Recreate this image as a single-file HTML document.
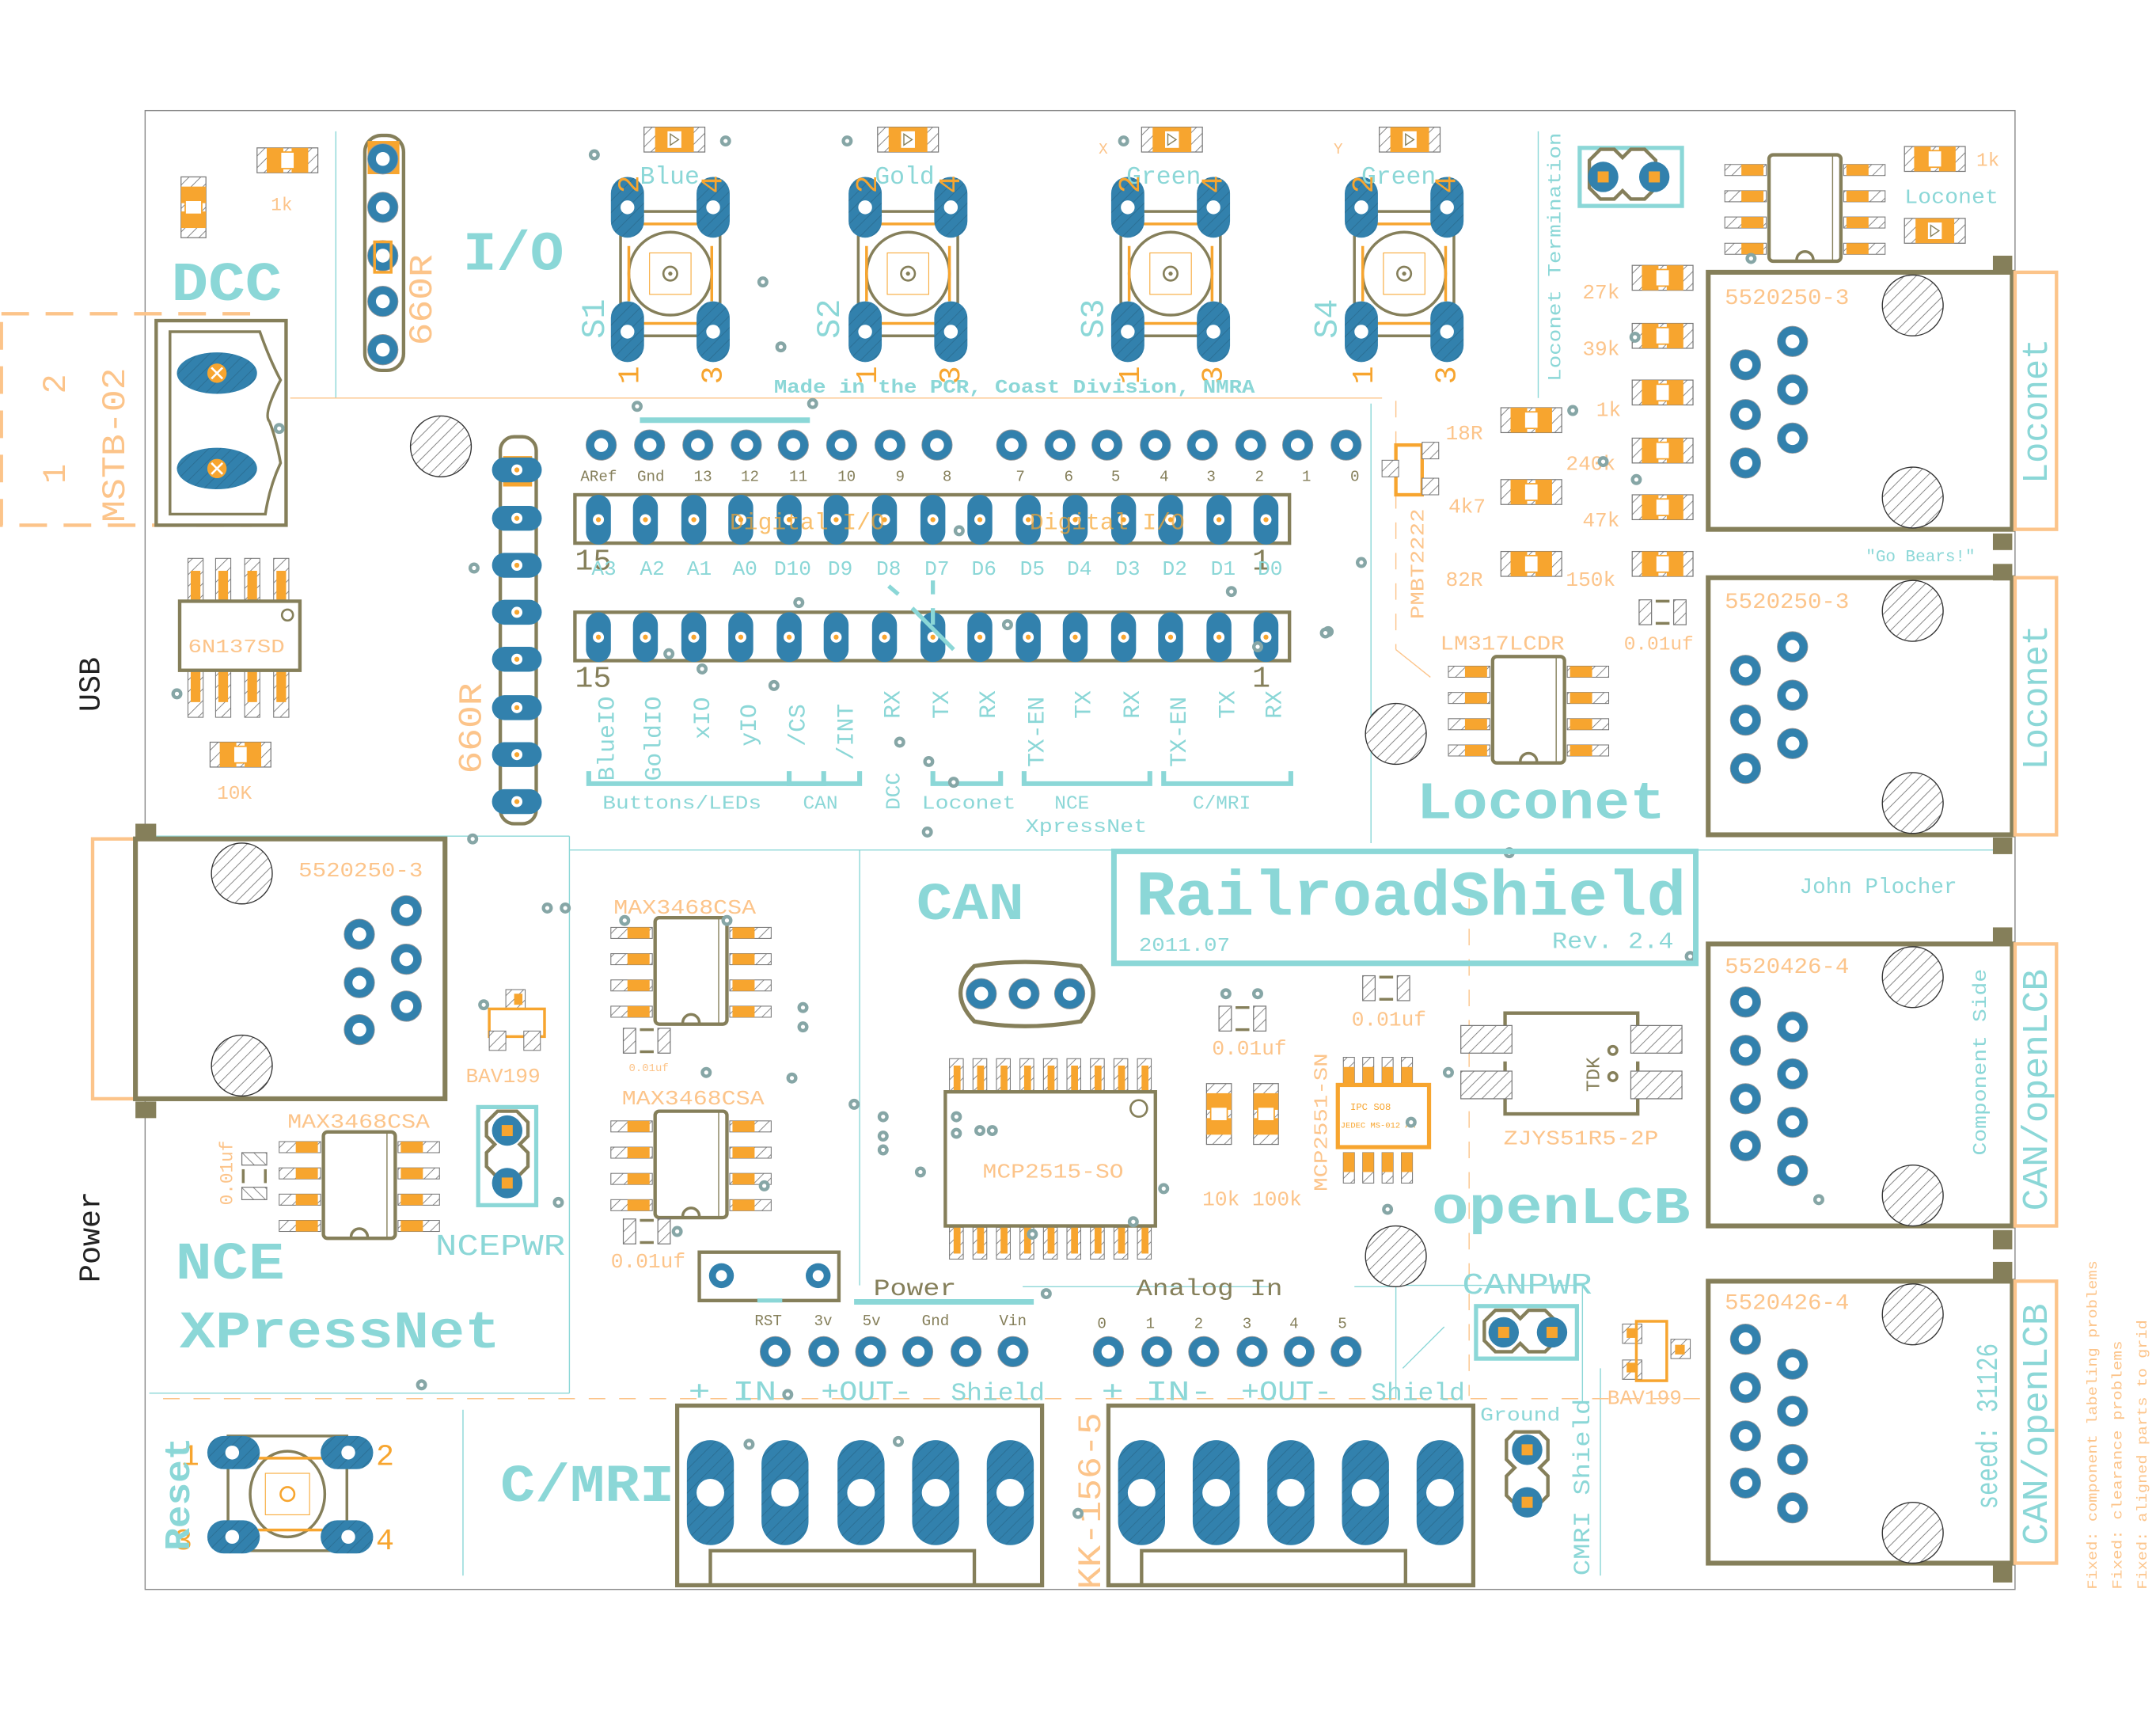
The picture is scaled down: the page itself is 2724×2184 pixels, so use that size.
<!DOCTYPE html>
<html><head><meta charset="utf-8"><style>
html,body{margin:0;padding:0;background:#fff;width:2724px;height:2184px;overflow:hidden}
svg{display:block;position:absolute;left:0;top:0}
text{font-family:"Liberation Mono","DejaVu Sans Mono",monospace}
.t{fill:#8bd7d7}
.o{fill:#fcc48a}
.ol{fill:#857f5a}
.k{fill:#222}
</style></head><body>
<svg width="2724" height="2184" viewBox="0 0 1560 1251" preserveAspectRatio="none" xmlns="http://www.w3.org/2000/svg">
<defs>
<pattern id="h" width="6" height="6" patternUnits="userSpaceOnUse" patternTransform="rotate(45)"><rect width="6" height="6" fill="#fff"/><line x1="0" y1="0" x2="0" y2="6" stroke="#777" stroke-width="1"/></pattern>
<pattern id="hb" width="6" height="6" patternUnits="userSpaceOnUse" patternTransform="rotate(45)"><rect width="6" height="6" fill="#3281ad"/><line x1="0" y1="0" x2="0" y2="6" stroke="#2a6d92" stroke-width="1"/></pattern>
<g id="p"><circle r="11" fill="#3281ad" stroke="#999" stroke-width="0.5"/><circle r="5" fill="#fff"/></g>
<g id="v"><circle r="4" fill="#86a6a6"/><circle r="1.5" fill="#fff"/></g>
<g id="op"><rect x="-9" y="-18" width="18" height="36" rx="9" fill="#3281ad"/><circle r="4" fill="#fff"/><circle r="1.8" fill="#f7a52f"/></g>
<g id="sp"><rect x="-12" y="-22" width="24" height="44" rx="12" fill="url(#hb)"/><circle r="5" fill="#fff"/></g>
<g id="big"><rect x="-17" y="-38" width="34" height="76" rx="17" fill="url(#hb)"/><circle r="10" fill="#fff"/></g>
<g id="rh"><rect x="-22" y="-9" width="44" height="18" fill="url(#h)" stroke="#777" stroke-width="0.7"/><rect x="-15" y="-9" width="12" height="18" fill="#f7a52f"/><rect x="3" y="-9" width="12" height="18" fill="#f7a52f"/><rect x="-5" y="-6" width="10" height="12" fill="#fff" stroke="#f7a52f"/></g>
<g id="rv"><rect x="-9" y="-22" width="18" height="44" fill="url(#h)" stroke="#777" stroke-width="0.7"/><rect x="-9" y="-15" width="18" height="12" fill="#f7a52f"/><rect x="-9" y="3" width="18" height="12" fill="#f7a52f"/><rect x="-6" y="-5" width="12" height="10" fill="#fff" stroke="#f7a52f"/></g>
<g id="cap"><rect x="-17" y="-9" width="9" height="18" fill="url(#h)" stroke="#777" stroke-width="0.7"/><rect x="8" y="-9" width="9" height="18" fill="url(#h)" stroke="#777" stroke-width="0.7"/><line x1="-5" y1="-8" x2="5" y2="-8" stroke="#857f5a" stroke-width="2"/><line x1="-5" y1="8" x2="5" y2="8" stroke="#857f5a" stroke-width="2"/></g>
<g id="so8"><g fill="url(#h)" stroke="#777" stroke-width="0.6"><rect x="-58" y="-31" width="30" height="8"/><rect x="-58" y="-12" width="30" height="8"/><rect x="-58" y="7" width="30" height="8"/><rect x="-58" y="26" width="30" height="8"/><rect x="28" y="-31" width="30" height="8"/><rect x="28" y="-12" width="30" height="8"/><rect x="28" y="7" width="30" height="8"/><rect x="28" y="26" width="30" height="8"/></g><g fill="#f7a52f"><rect x="-46" y="-31" width="16" height="8"/><rect x="-46" y="-12" width="16" height="8"/><rect x="-46" y="7" width="16" height="8"/><rect x="-46" y="26" width="16" height="8"/><rect x="30" y="-31" width="16" height="8"/><rect x="30" y="-12" width="16" height="8"/><rect x="30" y="7" width="16" height="8"/><rect x="30" y="26" width="16" height="8"/></g><rect x="-26" y="-38" width="52" height="77" rx="3" fill="#fff" stroke="#857f5a" stroke-width="2.5"/><line x1="20" y1="-37" x2="20" y2="38" stroke="#857f5a" stroke-width="0.8"/><path d="M-6 38 a6 6 0 0 1 12 0" fill="none" stroke="#857f5a" stroke-width="2"/></g>
<g id="sw"><rect x="-36" y="-45" width="72" height="90" fill="none" stroke="#857f5a" stroke-width="2"/><circle r="30" fill="none" stroke="#857f5a" stroke-width="2"/><rect x="-15" y="-15" width="30" height="30" fill="none" stroke="#f7a52f" stroke-width="0.6"/><circle r="5" fill="none" stroke="#857f5a" stroke-width="1.5"/><circle r="1.5" fill="#857f5a"/><line x1="-30" y1="-36" x2="30" y2="-36" stroke="#f7a52f" stroke-width="2"/><line x1="-30" y1="36" x2="30" y2="36" stroke="#f7a52f" stroke-width="2"/><line x1="-30" y1="-20" x2="-30" y2="20" stroke="#f7a52f" stroke-width="2"/><line x1="30" y1="-20" x2="30" y2="20" stroke="#f7a52f" stroke-width="2"/><use href="#sp" x="-31" y="-48"/><use href="#sp" x="31" y="-48"/><use href="#sp" x="-31" y="42"/><use href="#sp" x="31" y="42"/></g>
<g id="led"><rect x="-22" y="-9" width="44" height="18" fill="url(#h)" stroke="#777" stroke-width="0.7"/><rect x="-14" y="-9" width="28" height="18" fill="#f7a52f"/><rect x="-5" y="-6" width="10" height="12" fill="#fff"/><path d="M-3 -4 L3 0 L-3 4Z" fill="none" stroke="#857f5a" stroke-width="0.8"/></g>
<g id="rj3"><rect x="0" y="0" width="220" height="186" fill="#fff" stroke="#857f5a" stroke-width="3.5"/><circle cx="148" cy="24" r="22" fill="url(#h)" stroke="#333" stroke-width="0.8"/><circle cx="148" cy="163" r="22" fill="url(#h)" stroke="#333" stroke-width="0.8"/><use href="#p" x="27" y="67"/><use href="#p" x="27" y="103"/><use href="#p" x="27" y="138"/><use href="#p" x="61" y="50"/><use href="#p" x="61" y="85"/><use href="#p" x="61" y="120"/></g>
<g id="rj4"><rect x="0" y="0" width="220" height="204" fill="#fff" stroke="#857f5a" stroke-width="3.5"/><circle cx="148" cy="24" r="22" fill="url(#h)" stroke="#333" stroke-width="0.8"/><circle cx="148" cy="182" r="22" fill="url(#h)" stroke="#333" stroke-width="0.8"/><use href="#p" x="27" y="42"/><use href="#p" x="27" y="77"/><use href="#p" x="27" y="112"/><use href="#p" x="27" y="146"/><use href="#p" x="61" y="60"/><use href="#p" x="61" y="94"/><use href="#p" x="61" y="129"/><use href="#p" x="61" y="164"/></g>
</defs>
<rect width="1560" height="1251" fill="#fff"/>
<rect x="105" y="80" width="1353" height="1070" fill="none" stroke="#888" stroke-width="0.8"/>
<g stroke="#8bd7d7" stroke-width="0.8" fill="none">
<line x1="243" y1="95" x2="243" y2="288"/><line x1="1113" y1="95" x2="1113" y2="288"/>
<line x1="992" y1="292" x2="992" y2="610"/>
<line x1="108" y1="605" x2="412" y2="605"/><line x1="412" y1="605" x2="412" y2="1008"/><line x1="108" y1="1008" x2="412" y2="1008"/>
<line x1="412" y1="615" x2="805" y2="615"/><line x1="622" y1="615" x2="622" y2="930"/>
<line x1="1227" y1="615" x2="1455" y2="615"/>
<line x1="335" y1="1020" x2="335" y2="1140"/>
<line x1="1015" y1="930" x2="1145" y2="930"/><line x1="1145" y1="930" x2="1145" y2="1014"/><line x1="1158" y1="990" x2="1158" y2="1140"/>
<line x1="740" y1="931" x2="920" y2="931"/><line x1="980" y1="931" x2="1010" y2="931"/><line x1="1010" y1="931" x2="1010" y2="1012"/>
<line x1="1015" y1="990" x2="1045" y2="960"/>
</g>
<g stroke="#fcc48a" stroke-width="0.8" fill="none">
<line x1="210" y1="288" x2="1000" y2="288"/>
<line x1="1010" y1="290" x2="1010" y2="470" stroke-dasharray="12 10"/>
<line x1="1010" y1="470" x2="1035" y2="490"/>
<line x1="118" y1="1012" x2="1455" y2="1012" stroke-dasharray="12 10"/>
<line x1="1063" y1="650" x2="1063" y2="1010" stroke-dasharray="12 10"/>
</g>
<text class="k" font-size="22" transform="translate(72,515) rotate(-90)">USB</text>
<text class="k" font-size="22" transform="translate(72,928) rotate(-90)">Power</text>
<text class="t" x="124" y="217" font-size="40" font-weight="bold" textLength="80" lengthAdjust="spacingAndGlyphs">DCC</text>
<rect x="1" y="227" width="180" height="153" fill="none" stroke="#fcc48a" stroke-width="2.5" stroke-dasharray="20 12"/>
<text class="o" font-size="24" transform="translate(47,285) rotate(-90)">2</text>
<text class="o" font-size="24" transform="translate(47,350) rotate(-90)">1</text>
<text class="o" font-size="24" transform="translate(90,378) rotate(-90)" textLength="112" lengthAdjust="spacingAndGlyphs">MSTB-02</text>
<rect x="113" y="232" width="94" height="148" fill="#fff" stroke="#857f5a" stroke-width="2.5"/>
<path d="M123 240 H188 Q195 260 203 275 Q190 300 195 305 Q200 318 203 335 Q195 352 192 372 H123 Z" fill="none" stroke="#857f5a" stroke-width="2"/>
<ellipse cx="157" cy="270" rx="29" ry="15" fill="url(#hb)"/><circle cx="157" cy="270" r="7" fill="#f7a52f"/><path d="M153 266 l8 8 M161 266 l-8 8" stroke="#fff" stroke-width="1.5"/>
<ellipse cx="157" cy="339" rx="29" ry="15" fill="url(#hb)"/><circle cx="157" cy="339" r="7" fill="#f7a52f"/><path d="M153 335 l8 8 M161 335 l-8 8" stroke="#fff" stroke-width="1.5"/>
<use href="#v" x="202" y="310"/>
<use href="#rh" x="208" y="116"/>
<text class="o" x="196" y="152" font-size="13">1k</text>
<use href="#rv" x="140" y="150"/>
<rect x="264" y="98" width="28" height="170" rx="12" fill="#fff" stroke="#857f5a" stroke-width="2.5"/>
<rect x="266" y="102" width="23" height="24" fill="#f7a52f"/>
<use href="#p" x="277" y="115"/><use href="#p" x="277" y="150"/><use href="#p" x="277" y="185"/><use href="#p" x="277" y="218"/><use href="#p" x="277" y="253"/>
<rect x="271" y="175" width="12" height="22" fill="none" stroke="#f7a52f" stroke-width="2"/>
<text class="o" font-size="24" transform="translate(312,250) rotate(-90)" textLength="66" lengthAdjust="spacingAndGlyphs">660R</text>
<text class="t" x="335" y="195" font-size="40" font-weight="bold" textLength="73" lengthAdjust="spacingAndGlyphs">I/O</text>
<g>
<use href="#sw" x="485" y="198"/><use href="#sw" x="657" y="198"/><use href="#sw" x="847" y="198"/><use href="#sw" x="1016" y="198"/>
<use href="#led" x="488" y="101"/><use href="#led" x="657" y="101"/><use href="#led" x="848" y="101"/><use href="#led" x="1020" y="101"/>
<text class="t" x="463" y="133" font-size="18">Blue</text>
<text class="t" x="633" y="133" font-size="18">Gold</text>
<text class="t" x="815" y="133" font-size="18">Green</text>
<text class="t" x="985" y="133" font-size="18">Green</text>
<text class="o" x="795" y="111" font-size="11">X</text><text class="o" x="965" y="111" font-size="11">Y</text>
<g font-size="22" fill="#f7a52f">
<text transform="translate(462,140) rotate(-90)">2</text><text transform="translate(522,140) rotate(-90)">4</text>
<text transform="translate(462,278) rotate(-90)">1</text><text transform="translate(522,278) rotate(-90)">3</text>
<text transform="translate(634,140) rotate(-90)">2</text><text transform="translate(694,140) rotate(-90)">4</text>
<text transform="translate(634,278) rotate(-90)">1</text><text transform="translate(694,278) rotate(-90)">3</text>
<text transform="translate(824,140) rotate(-90)">2</text><text transform="translate(884,140) rotate(-90)">4</text>
<text transform="translate(824,278) rotate(-90)">1</text><text transform="translate(884,278) rotate(-90)">3</text>
<text transform="translate(993,140) rotate(-90)">2</text><text transform="translate(1053,140) rotate(-90)">4</text>
<text transform="translate(993,278) rotate(-90)">1</text><text transform="translate(1053,278) rotate(-90)">3</text>
</g>
<g font-size="24" fill="#8bd7d7">
<text transform="translate(437,245) rotate(-90)">S1</text><text transform="translate(607,245) rotate(-90)">S2</text>
<text transform="translate(798,245) rotate(-90)">S3</text><text transform="translate(967,245) rotate(-90)">S4</text>
</g>
<text class="t" x="560" y="284" font-size="14" font-weight="bold" textLength="348" lengthAdjust="spacingAndGlyphs">Made in the PCR, Coast Division, NMRA</text>
</g>
<use href="#v" x="430" y="112"/><use href="#v" x="525" y="102"/><use href="#v" x="552" y="204"/><use href="#v" x="565" y="251"/><use href="#v" x="613" y="102"/><use href="#v" x="813" y="102"/><use href="#v" x="461" y="294"/><use href="#v" x="588" y="292"/>
<text class="t" font-size="13" transform="translate(1129,276) rotate(-90)" textLength="180" lengthAdjust="spacingAndGlyphs">Loconet Termination</text>
<rect x="1143" y="107" width="74" height="42" fill="none" stroke="#8bd7d7" stroke-width="3"/>
<path d="M1150 116 l8 -8 h10 l6 6 l6 -6 h10 l8 8 v20 l-8 8 h-10 l-6 -6 l-6 6 h-10 l-8 -8z" fill="#fff" stroke="#857f5a" stroke-width="2.5"/>
<circle cx="1160" cy="128" r="11" fill="#3281ad"/><rect x="1156" y="124" width="8" height="8" fill="#f7a52f"/>
<circle cx="1197" cy="128" r="11" fill="#3281ad"/><rect x="1193" y="124" width="8" height="8" fill="#f7a52f"/>
<use href="#so8" x="1306" y="150"/>
<use href="#rh" x="1400" y="115"/><text class="o" x="1430" y="120" font-size="14">1k</text>
<text class="t" x="1378" y="147" font-size="15" textLength="68" lengthAdjust="spacingAndGlyphs">Loconet</text>
<use href="#led" x="1400" y="167"/>
<use href="#v" x="1267" y="187"/>
<use href="#rh" x="1203" y="201"/><text class="o" x="1145" y="216" font-size="15">27k</text>
<use href="#rh" x="1203" y="243"/><text class="o" x="1145" y="257" font-size="15">39k</text>
<use href="#rh" x="1203" y="284"/><text class="o" x="1155" y="301" font-size="15">1k</text>
<use href="#rh" x="1203" y="326"/><text class="o" x="1133" y="340" font-size="15">240k</text>
<use href="#rh" x="1203" y="367"/><text class="o" x="1145" y="381" font-size="15">47k</text>
<use href="#rh" x="1203" y="408"/><text class="o" x="1133" y="424" font-size="15">150k</text>
<use href="#rh" x="1108" y="304"/><text class="o" x="1046" y="318" font-size="15">18R</text>
<use href="#rh" x="1108" y="356"/><text class="o" x="1048" y="371" font-size="15">4k7</text>
<use href="#rh" x="1108" y="408"/><text class="o" x="1046" y="424" font-size="15">82R</text>
<use href="#cap" x="1203" y="443"/><text class="o" x="1175" y="470" font-size="14">0.01uf</text>
<use href="#v" x="1138" y="297"/><use href="#v" x="1183" y="244"/><use href="#v" x="1184" y="347"/><use href="#v" x="1241" y="350"/><use href="#v" x="1240" y="321"/><use href="#v" x="1160" y="334"/><use href="#v" x="985" y="407"/><use href="#v" x="961" y="457"/>
<rect x="1010" y="322" width="19" height="36" fill="#fff" stroke="#f7a52f" stroke-width="2.5"/>
<rect x="1029" y="320" width="12" height="12" fill="url(#h)" stroke="#777" stroke-width="0.6"/><rect x="1029" y="346" width="12" height="12" fill="url(#h)" stroke="#777" stroke-width="0.6"/><rect x="1000" y="333" width="12" height="12" fill="url(#h)" stroke="#777" stroke-width="0.6"/>
<text class="o" font-size="14" transform="translate(1030,448) rotate(-90)" textLength="80" lengthAdjust="spacingAndGlyphs">PMBT2222</text>
<text class="o" x="1042" y="470" font-size="15" textLength="90" lengthAdjust="spacingAndGlyphs">LM317LCDR</text>
<use href="#so8" x="1106" y="513"/>
<circle cx="1010" cy="531" r="22" fill="url(#h)" stroke="#333" stroke-width="0.8"/>
<text class="t" x="1025" y="592" font-size="38" font-weight="bold" textLength="180" lengthAdjust="spacingAndGlyphs">Loconet</text>
<use href="#v" x="1092" y="617"/>
<use href="#rj3" x="1236" y="197"/><text class="o" x="1248" y="220" font-size="16" textLength="90" lengthAdjust="spacingAndGlyphs">5520250-3</text>
<use href="#rj3" x="1236" y="418"/><text class="o" x="1248" y="440" font-size="16" textLength="90" lengthAdjust="spacingAndGlyphs">5520250-3</text>
<use href="#rj4" x="1236" y="683"/><text class="o" x="1248" y="704" font-size="16" textLength="90" lengthAdjust="spacingAndGlyphs">5520426-4</text>
<use href="#rj4" x="1236" y="927"/><text class="o" x="1248" y="947" font-size="16" textLength="90" lengthAdjust="spacingAndGlyphs">5520426-4</text>
<g fill="none" stroke="#fcc48a" stroke-width="2.5">
<rect x="1458" y="197" width="30" height="186"/><rect x="1458" y="418" width="30" height="186"/><rect x="1458" y="683" width="30" height="204"/><rect x="1458" y="927" width="30" height="204"/>
</g>
<g fill="#857f5a"><rect x="1442" y="185" width="14" height="12"/><rect x="1442" y="386" width="14" height="12"/><rect x="1442" y="408" width="14" height="12"/><rect x="1442" y="606" width="14" height="12"/><rect x="1442" y="671" width="14" height="12"/><rect x="1442" y="890" width="14" height="14"/><rect x="1442" y="913" width="14" height="14"/><rect x="1442" y="1131" width="14" height="14"/></g>
<g fill="#8bd7d7" font-size="26">
<text transform="translate(1481,350) rotate(-90)" textLength="105" lengthAdjust="spacingAndGlyphs">Loconet</text>
<text transform="translate(1481,557) rotate(-90)" textLength="105" lengthAdjust="spacingAndGlyphs">Loconet</text>
<text transform="translate(1481,876) rotate(-90)" textLength="175" lengthAdjust="spacingAndGlyphs">CAN/openLCB</text>
<text transform="translate(1481,1118) rotate(-90)" textLength="175" lengthAdjust="spacingAndGlyphs">CAN/openLCB</text>
</g>
<text class="t" font-size="14" transform="translate(1437,836) rotate(-90)" textLength="135" lengthAdjust="spacingAndGlyphs">Component Side</text>
<text class="t" font-size="22" transform="translate(1445,1092) rotate(-90)" textLength="120" lengthAdjust="spacingAndGlyphs">seeed: 31126</text>
<text class="t" x="1350" y="406" font-size="12">"Go Bears!"</text>
<text class="t" x="1302" y="646" font-size="16" textLength="114" lengthAdjust="spacingAndGlyphs">John Plocher</text>
<use href="#v" x="1316" y="868"/><use href="#v" x="1223" y="692"/>
<g fill="#fcc48a" font-size="10">
<text transform="translate(1517,1150) rotate(-90)" textLength="238" lengthAdjust="spacingAndGlyphs">Fixed: component labeling problems</text>
<text transform="translate(1535,1150) rotate(-90)" textLength="180" lengthAdjust="spacingAndGlyphs">Fixed: clearance problems</text>
<text transform="translate(1553,1150) rotate(-90)" textLength="195" lengthAdjust="spacingAndGlyphs">Fixed: aligned parts to grid</text>
</g>
<g fill="url(#h)" stroke="#777" stroke-width="0.6"><rect x="136" y="404" width="11" height="32"/><rect x="156" y="404" width="11" height="32"/><rect x="177" y="404" width="11" height="32"/><rect x="198" y="404" width="11" height="32"/><rect x="136" y="485" width="11" height="34"/><rect x="156" y="485" width="11" height="34"/><rect x="177" y="485" width="11" height="34"/><rect x="198" y="485" width="11" height="34"/></g>
<g fill="#f7a52f"><rect x="138" y="413" width="7" height="23"/><rect x="158" y="413" width="7" height="23"/><rect x="179" y="413" width="7" height="23"/><rect x="200" y="413" width="7" height="23"/><rect x="138" y="485" width="7" height="23"/><rect x="158" y="485" width="7" height="23"/><rect x="179" y="485" width="7" height="23"/><rect x="200" y="485" width="7" height="23"/></g>
<rect x="130" y="435" width="87" height="50" fill="#fff" stroke="#857f5a" stroke-width="2.5"/>
<circle cx="208" cy="445" r="4" fill="none" stroke="#857f5a" stroke-width="1.5"/>
<text class="o" x="136" y="472" font-size="14" textLength="70" lengthAdjust="spacingAndGlyphs">6N137SD</text>
<use href="#rh" x="174" y="546"/><text class="o" x="157" y="578" font-size="14">10K</text>
<use href="#v" x="128" y="502"/>
<circle cx="319" cy="323" r="22" fill="url(#h)" stroke="#333" stroke-width="0.8"/>
<rect x="362" y="316" width="26" height="280" rx="10" fill="#fff" stroke="#857f5a" stroke-width="2.5"/>
<rect x="364" y="330" width="21" height="22" fill="#f7a52f"/>
<g><use href="#op" x="374" y="340" transform="rotate(90 374 340)"/><use href="#op" x="374" y="375" transform="rotate(90 374 375)"/><use href="#op" x="374" y="409" transform="rotate(90 374 409)"/><use href="#op" x="374" y="443" transform="rotate(90 374 443)"/><use href="#op" x="374" y="477" transform="rotate(90 374 477)"/><use href="#op" x="374" y="512" transform="rotate(90 374 512)"/><use href="#op" x="374" y="546" transform="rotate(90 374 546)"/><use href="#op" x="374" y="580" transform="rotate(90 374 580)"/></g>
<text class="o" font-size="24" transform="translate(348,560) rotate(-90)" textLength="66" lengthAdjust="spacingAndGlyphs">660R</text>
<use href="#v" x="343" y="411"/><use href="#v" x="342" y="607"/>
<line x1="463" y1="304" x2="586" y2="304" stroke="#8bd7d7" stroke-width="4"/>
<g>
<use href="#p" x="435" y="322"/><use href="#p" x="470" y="322"/><use href="#p" x="505" y="322"/><use href="#p" x="540" y="322"/><use href="#p" x="574" y="322"/><use href="#p" x="609" y="322"/><use href="#p" x="644" y="322"/><use href="#p" x="678" y="322"/>
<use href="#p" x="732" y="322"/><use href="#p" x="767" y="322"/><use href="#p" x="801" y="322"/><use href="#p" x="836" y="322"/><use href="#p" x="870" y="322"/><use href="#p" x="905" y="322"/><use href="#p" x="939" y="322"/><use href="#p" x="974" y="322"/>
</g>
<g class="ol" font-size="11">
<text x="420" y="348">ARef</text><text x="461" y="348">Gnd</text><text x="502" y="348">13</text><text x="536" y="348">12</text><text x="571" y="348">11</text><text x="606" y="348">10</text><text x="648" y="348">9</text><text x="682" y="348">8</text>
<text x="735" y="348">7</text><text x="770" y="348">6</text><text x="804" y="348">5</text><text x="839" y="348">4</text><text x="873" y="348">3</text><text x="908" y="348">2</text><text x="942" y="348">1</text><text x="977" y="348">0</text>
</g>
<rect x="416" y="358" width="517" height="35" fill="#fff" stroke="#857f5a" stroke-width="2.5"/>
<rect x="416" y="443" width="517" height="35" fill="#fff" stroke="#857f5a" stroke-width="2.5"/>
<g>
<use href="#op" x="433" y="376"/><use href="#op" x="467" y="376"/><use href="#op" x="502" y="376"/><use href="#op" x="536" y="376"/><use href="#op" x="571" y="376"/><use href="#op" x="605" y="376"/><use href="#op" x="640" y="376"/><use href="#op" x="675" y="376"/><use href="#op" x="709" y="376"/><use href="#op" x="744" y="376"/><use href="#op" x="778" y="376"/><use href="#op" x="813" y="376"/><use href="#op" x="847" y="376"/><use href="#op" x="882" y="376"/><use href="#op" x="916" y="376"/>
<use href="#op" x="433" y="461"/><use href="#op" x="467" y="461"/><use href="#op" x="502" y="461"/><use href="#op" x="536" y="461"/><use href="#op" x="571" y="461"/><use href="#op" x="605" y="461"/><use href="#op" x="640" y="461"/><use href="#op" x="675" y="461"/><use href="#op" x="709" y="461"/><use href="#op" x="744" y="461"/><use href="#op" x="778" y="461"/><use href="#op" x="813" y="461"/><use href="#op" x="847" y="461"/><use href="#op" x="882" y="461"/><use href="#op" x="916" y="461"/>
</g>
<text x="528" y="383" font-size="17" fill="#f7a52f" opacity="0.7">Digital I/O</text>
<text x="745" y="383" font-size="17" fill="#f7a52f" opacity="0.7">Digital I/O</text>
<text class="ol" x="416" y="412" font-size="22">15</text><text class="ol" x="906" y="412" font-size="22">1</text>
<text class="ol" x="416" y="497" font-size="22">15</text><text class="ol" x="906" y="497" font-size="22">1</text>
<g class="t" font-size="15">
<text x="428" y="416">A3</text><text x="463" y="416">A2</text><text x="497" y="416">A1</text><text x="530" y="416">A0</text><text x="560" y="416">D10</text><text x="599" y="416">D9</text><text x="634" y="416">D8</text><text x="669" y="416">D7</text><text x="703" y="416">D6</text><text x="738" y="416">D5</text><text x="772" y="416">D4</text><text x="807" y="416">D3</text><text x="841" y="416">D2</text><text x="876" y="416">D1</text><text x="910" y="416">D0</text>
</g>
<g stroke="#8bd7d7" stroke-width="3"><line x1="643" y1="424" x2="650" y2="430"/><line x1="660" y1="440" x2="690" y2="470"/><line x1="675" y1="420" x2="675" y2="430"/><line x1="675" y1="440" x2="675" y2="452"/></g>
<g class="t" font-size="17">
<text transform="translate(444,565) rotate(-90)">BlueIO</text><text transform="translate(478,565) rotate(-90)">GoldIO</text>
<text transform="translate(513,535) rotate(-90)">xIO</text><text transform="translate(547,540) rotate(-90)">yIO</text>
<text transform="translate(582,540) rotate(-90)">/CS</text><text transform="translate(617,550) rotate(-90)">/INT</text>
<text transform="translate(651,520) rotate(-90)">RX</text><text transform="translate(686,520) rotate(-90)">TX</text><text transform="translate(720,520) rotate(-90)">RX</text>
<text transform="translate(755,555) rotate(-90)">TX-EN</text><text transform="translate(789,520) rotate(-90)">TX</text><text transform="translate(824,520) rotate(-90)">RX</text>
<text transform="translate(858,555) rotate(-90)">TX-EN</text><text transform="translate(893,520) rotate(-90)">TX</text><text transform="translate(927,520) rotate(-90)">RX</text>
<text transform="translate(651,586) rotate(-90)" font-size="15">DCC</text>
</g>
<g fill="none" stroke="#8bd7d7" stroke-width="3.5">
<path d="M426 558 v9 H596 v-9"/><path d="M571 558 v9 H622 v-9"/><path d="M675 558 v9 H724 v-9"/><path d="M741 558 v9 H832 v-9"/><path d="M842 558 v9 H934 v-9"/>
</g>
<g class="t" font-size="14">
<text x="436" y="585" textLength="115" lengthAdjust="spacingAndGlyphs">Buttons/LEDs</text><text x="581" y="585">CAN</text><text x="667" y="585" textLength="68" lengthAdjust="spacingAndGlyphs">Loconet</text><text x="763" y="585">NCE</text><text x="742" y="602" textLength="88" lengthAdjust="spacingAndGlyphs">XpressNet</text><text x="863" y="585">C/MRI</text>
</g>
<use href="#v" x="578" y="436"/><use href="#v" x="484" y="473"/><use href="#v" x="508" y="484"/><use href="#v" x="560" y="496"/><use href="#v" x="651" y="537"/><use href="#v" x="672" y="551"/><use href="#v" x="690" y="566"/><use href="#v" x="671" y="602"/><use href="#v" x="891" y="428"/><use href="#v" x="910" y="468"/><use href="#v" x="959" y="458"/><use href="#v" x="694" y="384"/><use href="#v" x="729" y="452"/>
<rect x="67" y="607" width="31" height="188" fill="none" stroke="#fcc48a" stroke-width="2.5"/>
<rect x="98" y="607" width="224" height="188" fill="#fff" stroke="#857f5a" stroke-width="3.5"/>
<circle cx="175" cy="632" r="22" fill="url(#h)" stroke="#333" stroke-width="0.8"/><circle cx="175" cy="771" r="22" fill="url(#h)" stroke="#333" stroke-width="0.8"/>
<use href="#p" x="260" y="676"/><use href="#p" x="260" y="711"/><use href="#p" x="260" y="745"/><use href="#p" x="294" y="659"/><use href="#p" x="294" y="694"/><use href="#p" x="294" y="728"/>
<text class="o" x="216" y="634" font-size="15" textLength="90" lengthAdjust="spacingAndGlyphs">5520250-3</text>
<rect x="98" y="596" width="15" height="12" fill="#857f5a"/><rect x="98" y="797" width="15" height="12" fill="#857f5a"/>
<use href="#v" x="396" y="657"/><use href="#v" x="409" y="657"/>
<rect x="366" y="716" width="14" height="14" fill="url(#h)" stroke="#777" stroke-width="0.6"/><rect x="372" y="719" width="6" height="8" fill="#f7a52f"/>
<rect x="354" y="730" width="40" height="20" fill="none" stroke="#f7a52f" stroke-width="2"/>
<rect x="354" y="746" width="12" height="14" fill="url(#h)" stroke="#777" stroke-width="0.6"/><rect x="379" y="746" width="12" height="14" fill="url(#h)" stroke="#777" stroke-width="0.6"/>
<text class="o" x="337" y="783" font-size="15">BAV199</text>
<use href="#v" x="350" y="727"/>
<text class="o" x="208" y="816" font-size="15" textLength="103" lengthAdjust="spacingAndGlyphs">MAX3468CSA</text>
<use href="#so8" x="260" y="857"/>
<use href="#cap" x="184" y="851" transform="rotate(90 184 851)"/>
<text class="o" font-size="13" transform="translate(168,872) rotate(-90)">0.01uf</text>
<rect x="346" y="801" width="42" height="71" fill="none" stroke="#8bd7d7" stroke-width="3"/>
<path d="M352 812 l8 -8 h14 l8 8 v10 l-6 6 l6 6 v10 l-8 8 h-14 l-8 -8 v-10 l6 -6 l-6 -6z" fill="#fff" stroke="#857f5a" stroke-width="2.5"/>
<circle cx="367" cy="818" r="11" fill="#3281ad"/><rect x="363" y="814" width="8" height="8" fill="#f7a52f"/>
<circle cx="367" cy="856" r="11" fill="#3281ad"/><rect x="363" y="852" width="8" height="8" fill="#f7a52f"/>
<text class="t" x="315" y="908" font-size="22" textLength="94" lengthAdjust="spacingAndGlyphs">NCEPWR</text>
<use href="#v" x="404" y="870"/>
<text class="t" x="127" y="925" font-size="38" font-weight="bold" textLength="79" lengthAdjust="spacingAndGlyphs">NCE</text>
<text class="t" x="130" y="975" font-size="38" font-weight="bold" textLength="232" lengthAdjust="spacingAndGlyphs">XPressNet</text>
<use href="#v" x="305" y="1002"/>
<text class="o" x="444" y="661" font-size="15" textLength="103" lengthAdjust="spacingAndGlyphs">MAX3468CSA</text>
<use href="#so8" x="500" y="702"/>
<use href="#cap" x="468" y="753"/><text class="o" x="455" y="775" font-size="8">0.01uf</text>
<text class="o" x="450" y="799" font-size="15" textLength="103" lengthAdjust="spacingAndGlyphs">MAX3468CSA</text>
<use href="#so8" x="500" y="842"/>
<use href="#cap" x="468" y="891"/><text class="o" x="442" y="917" font-size="15">0.01uf</text>
<use href="#v" x="452" y="666"/><use href="#v" x="526" y="666"/><use href="#v" x="581" y="729"/><use href="#v" x="581" y="743"/><use href="#v" x="511" y="776"/><use href="#v" x="573" y="780"/><use href="#v" x="553" y="858"/><use href="#v" x="490" y="891"/><use href="#v" x="618" y="799"/><use href="#v" x="639" y="808"/><use href="#v" x="639" y="822"/><use href="#v" x="639" y="832"/><use href="#v" x="666" y="848"/>
<rect x="506" y="906" width="101" height="35" fill="#fff" stroke="#857f5a" stroke-width="2.5"/>
<circle cx="522" cy="923" r="9" fill="#3281ad"/><circle cx="522" cy="923" r="4" fill="#fff"/>
<circle cx="592" cy="923" r="9" fill="#3281ad"/><circle cx="592" cy="923" r="4" fill="#fff"/>
<line x1="548" y1="941" x2="566" y2="941" stroke="#8bd7d7" stroke-width="3"/>
<text class="ol" x="632" y="937" font-size="17" textLength="60" lengthAdjust="spacingAndGlyphs">Power</text>
<line x1="618" y1="942" x2="748" y2="942" stroke="#8bd7d7" stroke-width="4"/>
<text class="ol" x="822" y="937" font-size="17" textLength="106" lengthAdjust="spacingAndGlyphs">Analog In</text>
<g class="ol" font-size="11"><text x="546" y="959">RST</text><text x="589" y="959">3v</text><text x="624" y="959">5v</text><text x="667" y="959">Gnd</text><text x="723" y="959">Vin</text>
<text x="794" y="961">0</text><text x="829" y="961">1</text><text x="864" y="961">2</text><text x="899" y="961">3</text><text x="933" y="961">4</text><text x="968" y="961">5</text></g>
<g><use href="#p" x="561" y="978"/><use href="#p" x="596" y="978"/><use href="#p" x="630" y="978"/><use href="#p" x="664" y="978"/><use href="#p" x="699" y="978"/><use href="#p" x="733" y="978"/>
<use href="#p" x="802" y="978"/><use href="#p" x="837" y="978"/><use href="#p" x="871" y="978"/><use href="#p" x="906" y="978"/><use href="#p" x="940" y="978"/><use href="#p" x="974" y="978"/></g>
<use href="#v" x="757" y="936"/>
<text class="t" x="663" y="665" font-size="38" font-weight="bold" textLength="78" lengthAdjust="spacingAndGlyphs">CAN</text>
<path d="M705 699 Q740 693 782 699 Q800 718 782 739 Q740 746 705 739 Q685 718 705 699z" fill="#fff" stroke="#857f5a" stroke-width="3"/>
<use href="#p" x="710" y="719"/><use href="#p" x="741" y="719"/><use href="#p" x="774" y="719"/>
<g fill="url(#h)" stroke="#777" stroke-width="0.6">
<rect x="687" y="766" width="10" height="23"/><rect x="704" y="766" width="10" height="23"/><rect x="721" y="766" width="10" height="23"/><rect x="738" y="766" width="10" height="23"/><rect x="755" y="766" width="10" height="23"/><rect x="772" y="766" width="10" height="23"/><rect x="789" y="766" width="10" height="23"/><rect x="806" y="766" width="10" height="23"/><rect x="823" y="766" width="10" height="23"/>
<rect x="687" y="888" width="10" height="23"/><rect x="704" y="888" width="10" height="23"/><rect x="721" y="888" width="10" height="23"/><rect x="738" y="888" width="10" height="23"/><rect x="755" y="888" width="10" height="23"/><rect x="772" y="888" width="10" height="23"/><rect x="789" y="888" width="10" height="23"/><rect x="806" y="888" width="10" height="23"/><rect x="823" y="888" width="10" height="23"/></g>
<g fill="#f7a52f">
<rect x="690" y="771" width="5" height="20"/><rect x="707" y="771" width="5" height="20"/><rect x="724" y="771" width="5" height="20"/><rect x="741" y="771" width="5" height="20"/><rect x="758" y="771" width="5" height="20"/><rect x="775" y="771" width="5" height="20"/><rect x="792" y="771" width="5" height="20"/><rect x="809" y="771" width="5" height="20"/><rect x="826" y="771" width="5" height="20"/>
<rect x="690" y="887" width="5" height="20"/><rect x="707" y="887" width="5" height="20"/><rect x="724" y="887" width="5" height="20"/><rect x="741" y="887" width="5" height="20"/><rect x="758" y="887" width="5" height="20"/><rect x="775" y="887" width="5" height="20"/><rect x="792" y="887" width="5" height="20"/><rect x="809" y="887" width="5" height="20"/><rect x="826" y="887" width="5" height="20"/></g>
<rect x="684" y="790" width="152" height="97" fill="#fff" stroke="#857f5a" stroke-width="2.5"/>
<circle cx="824" cy="802" r="6" fill="none" stroke="#857f5a" stroke-width="1.5"/>
<text class="o" x="711" y="852" font-size="15" textLength="102" lengthAdjust="spacingAndGlyphs">MCP2515-SO</text>
<use href="#v" x="709" y="818"/><use href="#v" x="718" y="818"/><use href="#v" x="692" y="808"/><use href="#v" x="692" y="820"/><use href="#v" x="842" y="860"/><use href="#v" x="820" y="884"/><use href="#v" x="747" y="893"/>
<rect x="806" y="616" width="421" height="81" fill="none" stroke="#8bd7d7" stroke-width="4"/>
<text class="t" x="822" y="662" font-size="46" font-weight="bold" textLength="398" lengthAdjust="spacingAndGlyphs">RailroadShield</text>
<text class="t" x="824" y="688" font-size="14" textLength="66" lengthAdjust="spacingAndGlyphs">2011.07</text>
<text class="t" x="1123" y="686" font-size="17" textLength="88" lengthAdjust="spacingAndGlyphs">Rev. 2.4</text>
<use href="#cap" x="899" y="737"/><use href="#v" x="887" y="719"/><use href="#v" x="910" y="719"/>
<text class="o" x="877" y="763" font-size="15">0.01uf</text>
<use href="#cap" x="1003" y="715"/><text class="o" x="978" y="742" font-size="15">0.01uf</text>
<use href="#rv" x="882" y="806"/><use href="#rv" x="916" y="806"/>
<text class="o" x="870" y="872" font-size="15">10k 100k</text>
<text class="o" font-size="14" transform="translate(960,862) rotate(-90)" textLength="100" lengthAdjust="spacingAndGlyphs">MCP2551-SN</text>
<g fill="url(#h)" stroke="#777" stroke-width="0.6"><rect x="972" y="765" width="8" height="22"/><rect x="986" y="765" width="8" height="22"/><rect x="1000" y="765" width="8" height="22"/><rect x="1014" y="765" width="8" height="22"/><rect x="972" y="834" width="8" height="22"/><rect x="986" y="834" width="8" height="22"/><rect x="1000" y="834" width="8" height="22"/><rect x="1014" y="834" width="8" height="22"/></g>
<g fill="#f7a52f"><rect x="972" y="772" width="8" height="14"/><rect x="986" y="772" width="8" height="14"/><rect x="1000" y="772" width="8" height="14"/><rect x="1014" y="772" width="8" height="14"/><rect x="972" y="834" width="8" height="14"/><rect x="986" y="834" width="8" height="14"/><rect x="1000" y="834" width="8" height="14"/><rect x="1014" y="834" width="8" height="14"/></g>
<rect x="968" y="785" width="66" height="45" fill="#fff" stroke="#f7a52f" stroke-width="3"/>
<text x="977" y="803" font-size="7" fill="#f7a52f">IPC SO8</text><text x="970" y="816" font-size="6" fill="#f7a52f">JEDEC MS-012 AA</text>
<use href="#v" x="1021" y="812"/><use href="#v" x="1048" y="776"/><use href="#v" x="1004" y="875"/>
<path d="M1089 746 V733 H1185 V746 M1089 768 V782 M1185 768 V782 M1089 792 V806 H1185 V792" fill="none" stroke="#857f5a" stroke-width="2.5"/>
<g fill="url(#h)" stroke="#777" stroke-width="0.7"><rect x="1057" y="742" width="37" height="20"/><rect x="1057" y="775" width="37" height="20"/><rect x="1180" y="742" width="37" height="20"/><rect x="1180" y="775" width="37" height="20"/></g>
<text class="ol" font-size="14" transform="translate(1157,790) rotate(-90)">TDK</text>
<circle cx="1167" cy="760" r="3" fill="none" stroke="#857f5a" stroke-width="2"/><circle cx="1167" cy="779" r="3" fill="none" stroke="#857f5a" stroke-width="2"/>
<text class="o" x="1088" y="828" font-size="15" textLength="112" lengthAdjust="spacingAndGlyphs">ZJYS51R5-2P</text>
<text class="t" x="1036" y="885" font-size="38" font-weight="bold" textLength="187" lengthAdjust="spacingAndGlyphs">openLCB</text>
<circle cx="1010" cy="909" r="22" fill="url(#h)" stroke="#333" stroke-width="0.8"/>
<text class="t" x="1058" y="936" font-size="22" textLength="94" lengthAdjust="spacingAndGlyphs">CANPWR</text>
<rect x="1068" y="945" width="73" height="38" fill="none" stroke="#8bd7d7" stroke-width="3"/>
<path d="M1074 956 l8 -8 h12 l6 6 l6 -6 h12 l8 8 v14 l-8 8 h-12 l-6 -6 l-6 6 h-12 l-8 -8z" fill="#fff" stroke="#857f5a" stroke-width="2.5"/>
<circle cx="1088" cy="964" r="11" fill="#3281ad"/><rect x="1084" y="960" width="8" height="8" fill="#f7a52f"/>
<circle cx="1123" cy="964" r="11" fill="#3281ad"/><rect x="1119" y="960" width="8" height="8" fill="#f7a52f"/>
<g fill="url(#h)" stroke="#777" stroke-width="0.6"><rect x="1174" y="958" width="14" height="14"/><rect x="1174" y="984" width="14" height="14"/><rect x="1209" y="969" width="14" height="14"/></g>
<g fill="#f7a52f"><rect x="1177" y="961" width="8" height="7"/><rect x="1177" y="986" width="8" height="7"/><rect x="1212" y="973" width="7" height="7"/></g>
<rect x="1184" y="956" width="22" height="43" fill="none" stroke="#f7a52f" stroke-width="2"/>
<text class="o" x="1163" y="1016" font-size="15">BAV199</text>
<text class="t" x="1071" y="1028" font-size="14" textLength="58" lengthAdjust="spacingAndGlyphs">Ground</text>
<path d="M1096 1036 l-6 6 v14 l6 6 l-6 6 v14 l6 6 h18 l6 -6 v-14 l-6 -6 l6 -6 v-14 l-6 -6z" fill="#fff" stroke="#857f5a" stroke-width="2.5"/>
<circle cx="1105" cy="1049" r="11" fill="#3281ad"/><rect x="1101" y="1045" width="8" height="8" fill="#f7a52f"/>
<circle cx="1105" cy="1087" r="11" fill="#3281ad"/><rect x="1101" y="1083" width="8" height="8" fill="#f7a52f"/>
<text class="t" font-size="17" transform="translate(1150,1140) rotate(-90)" textLength="128" lengthAdjust="spacingAndGlyphs">CMRI Shield</text>
<g class="t" font-size="20">
<text x="498" y="1013" textLength="80" lengthAdjust="spacingAndGlyphs">+ IN- </text><text x="594" y="1013" textLength="66" lengthAdjust="spacingAndGlyphs">+OUT-</text><text x="688" y="1013" font-size="18" textLength="68" lengthAdjust="spacingAndGlyphs">Shield</text>
<text x="797" y="1013" textLength="80" lengthAdjust="spacingAndGlyphs">+ IN- </text><text x="898" y="1013" textLength="66" lengthAdjust="spacingAndGlyphs">+OUT-</text><text x="992" y="1013" font-size="18" textLength="68" lengthAdjust="spacingAndGlyphs">Shield</text>
</g>
<rect x="490" y="1017" width="264" height="130" fill="#fff" stroke="#857f5a" stroke-width="3"/>
<rect x="514" y="1122" width="191" height="25" fill="none" stroke="#857f5a" stroke-width="2.5"/>
<use href="#big" x="514" y="1080"/><use href="#big" x="568" y="1080"/><use href="#big" x="623" y="1080"/><use href="#big" x="677" y="1080"/><use href="#big" x="731" y="1080"/>
<rect x="802" y="1017" width="264" height="130" fill="#fff" stroke="#857f5a" stroke-width="3"/>
<rect x="826" y="1122" width="191" height="25" fill="none" stroke="#857f5a" stroke-width="2.5"/>
<use href="#big" x="826" y="1080"/><use href="#big" x="880" y="1080"/><use href="#big" x="934" y="1080"/><use href="#big" x="988" y="1080"/><use href="#big" x="1042" y="1080"/>
<text class="o" font-size="24" transform="translate(796,1150) rotate(-90)" textLength="128" lengthAdjust="spacingAndGlyphs">KK-156-5</text>
<text class="t" x="362" y="1086" font-size="38" font-weight="bold" textLength="126" lengthAdjust="spacingAndGlyphs">C/MRI</text>
<use href="#v" x="570" y="1009"/><use href="#v" x="542" y="1045"/><use href="#v" x="650" y="1043"/><use href="#v" x="780" y="1095"/>
<rect x="165" y="1039" width="86" height="83" fill="none" stroke="#857f5a" stroke-width="2"/>
<ellipse cx="208" cy="1081" rx="27" ry="31" fill="none" stroke="#857f5a" stroke-width="2"/>
<rect x="192" y="1066" width="32" height="30" fill="none" stroke="#f7a52f" stroke-width="0.6"/>
<circle cx="208" cy="1081" r="5" fill="none" stroke="#f7a52f" stroke-width="1.5"/>
<line x1="172" y1="1055" x2="245" y2="1055" stroke="#f7a52f" stroke-width="2"/><line x1="172" y1="1107" x2="245" y2="1107" stroke="#f7a52f" stroke-width="2"/>
<rect x="150" y="1039" width="38" height="24" rx="12" fill="url(#hb)"/><circle cx="168" cy="1051" r="5" fill="#fff"/>
<rect x="232" y="1039" width="38" height="24" rx="12" fill="url(#hb)"/><circle cx="252" cy="1051" r="5" fill="#fff"/>
<rect x="150" y="1100" width="38" height="24" rx="12" fill="url(#hb)"/><circle cx="168" cy="1112" r="5" fill="#fff"/>
<rect x="232" y="1100" width="38" height="24" rx="12" fill="url(#hb)"/><circle cx="252" cy="1112" r="5" fill="#fff"/>
<g fill="#f7a52f" font-size="22"><text x="131" y="1060">1</text><text x="272" y="1060">2</text><text x="126" y="1121">3</text><text x="272" y="1121">4</text></g>
<text class="t" font-size="26" font-weight="bold" transform="translate(137,1122) rotate(-90)" textLength="82" lengthAdjust="spacingAndGlyphs">Reset</text>
</svg>
</body></html>
